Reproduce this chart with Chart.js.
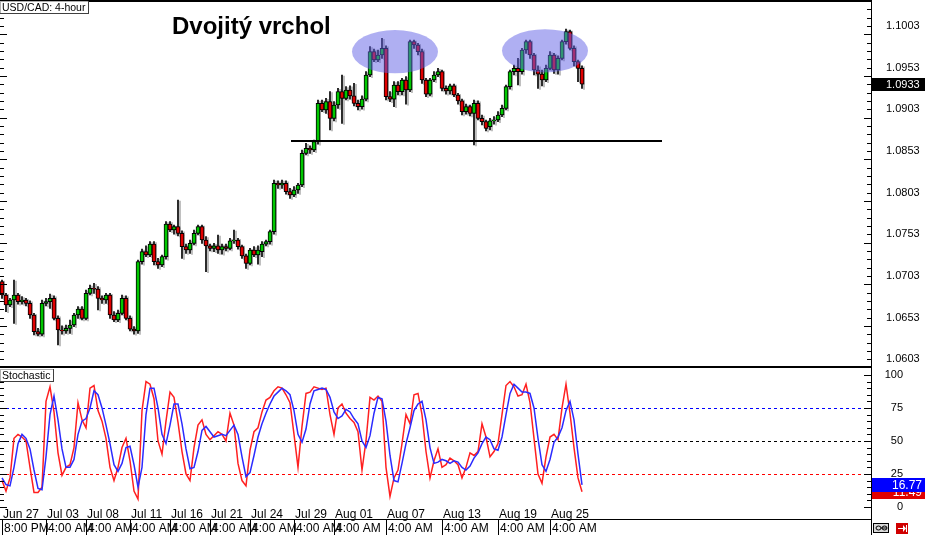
<!DOCTYPE html>
<html>
<head>
<meta charset="utf-8">
<title>USD/CAD 4-hour - Dvojitý vrchol</title>
<script src="https://cdn.jsdelivr.net/npm/chart.js@4.4.1/dist/chart.umd.min.js"></script>
<style>
  html, body { margin: 0; padding: 0; background: #fff; }
  #wrap { position: relative; width: 925px; height: 535px; overflow: hidden; }
  canvas { position: absolute; left: 0; }
  #priceChart { top: 0; }
  #stochChart { top: 368px; }
</style>
</head>
<body>
<div id="wrap">
  <canvas id="priceChart" width="925" height="368"></canvas>
  <canvas id="stochChart" width="925" height="167"></canvas>
</div>
<script>
// USD/CAD 4-hour candles (oldest first)
const open = [
  1.0696, 1.0680, 1.0668, 1.0674, 1.0680, 1.0672, 1.0674, 1.0670, 1.0656, 1.0636,
  1.0633, 1.0670, 1.0672, 1.0676, 1.0652, 1.0638, 1.0637, 1.0640, 1.0644, 1.0656,
  1.0663, 1.0652, 1.0682, 1.0688, 1.0687, 1.0676, 1.0674, 1.0680, 1.0656, 1.0650,
  1.0658, 1.0676, 1.0652, 1.0639, 1.0637, 1.0720, 1.0732, 1.0728, 1.0741, 1.0720,
  1.0716, 1.0726, 1.0765, 1.0758, 1.0762, 1.0754, 1.0738, 1.0734, 1.0742, 1.0754,
  1.0762, 1.0746, 1.0739, 1.0736, 1.0739, 1.0734, 1.0738, 1.0736, 1.0745, 1.0746,
  1.0738, 1.0727, 1.0718, 1.0734, 1.0728, 1.0732, 1.0741, 1.0744, 1.0756, 1.0814,
  1.0812, 1.0814, 1.0804, 1.0800, 1.0806, 1.0812, 1.0850, 1.0856, 1.0854, 1.0864,
  1.0910, 1.0902, 1.0912, 1.0892, 1.0908, 1.0924, 1.0916, 1.0926, 1.0919, 1.0910,
  1.0906, 1.0915, 1.0944, 1.0972, 1.0962, 1.0968, 1.0976, 1.0918, 1.0915, 1.0932,
  1.0924, 1.0938, 1.0926, 1.0984, 1.0980, 1.0972, 1.0938, 1.0921, 1.0938, 1.0944,
  1.0948, 1.0928, 1.0925, 1.0931, 1.0920, 1.0913, 1.0900, 1.0906, 1.0898, 1.0910,
  1.0892, 1.0888, 1.0882, 1.0889, 1.0890, 1.0896, 1.0904, 1.0930, 1.0948, 1.0952,
  1.0948, 1.0974, 1.0984, 1.0968, 1.0950, 1.0945, 1.0938, 1.0952, 1.0968, 1.0950,
  1.0964, 1.0984, 1.0996, 1.0976, 1.0960, 1.0952
];
const high = [
  1.0698, 1.0682, 1.0676, 1.0698, 1.0682, 1.0678, 1.0676, 1.0673, 1.0658, 1.0640,
  1.0674, 1.0676, 1.0681, 1.0679, 1.0655, 1.0643, 1.0644, 1.0650, 1.0658, 1.0666,
  1.0666, 1.0686, 1.0692, 1.0694, 1.0690, 1.0679, 1.0682, 1.0682, 1.0660, 1.0662,
  1.0680, 1.0679, 1.0655, 1.0642, 1.0722, 1.0735, 1.0739, 1.0744, 1.0744, 1.0724,
  1.0728, 1.0768, 1.0768, 1.0764, 1.0794, 1.0757, 1.0741, 1.0746, 1.0758, 1.0764,
  1.0764, 1.0750, 1.0741, 1.0742, 1.0752, 1.0741, 1.0741, 1.0748, 1.0758, 1.0748,
  1.0740, 1.0729, 1.0736, 1.0738, 1.0739, 1.0744, 1.0746, 1.0758, 1.0818, 1.0817,
  1.0818, 1.0817, 1.0808, 1.0810, 1.0814, 1.0854, 1.0862, 1.0859, 1.0866, 1.0914,
  1.0914, 1.0916, 1.0924, 1.0912, 1.0928, 1.0944, 1.0930, 1.0931, 1.0934, 1.0914,
  1.0919, 1.0948, 1.0978, 1.0975, 1.0974, 1.0988, 1.0979, 1.0924, 1.0936, 1.0936,
  1.0940, 1.0942, 1.0986, 1.0986, 1.0982, 1.0975, 1.0940, 1.0940, 1.0948, 1.0952,
  1.0950, 1.0931, 1.0933, 1.0933, 1.0922, 1.0915, 1.0909, 1.0908, 1.0914, 1.0913,
  1.0896, 1.0890, 1.0892, 1.0894, 1.0900, 1.0908, 1.0932, 1.0950, 1.0956, 1.0964,
  1.0976, 1.0986, 1.0986, 1.0970, 1.0955, 1.0950, 1.0956, 1.0972, 1.0970, 1.0967,
  1.0986, 1.0999, 1.0998, 1.0979, 1.0962, 1.0955
];
const low = [
  1.0676, 1.0660, 1.0666, 1.0646, 1.0669, 1.0669, 1.0667, 1.0652, 1.0632, 1.0631,
  1.0631, 1.0667, 1.0664, 1.0650, 1.0620, 1.0633, 1.0634, 1.0634, 1.0642, 1.0652,
  1.0650, 1.0650, 1.0680, 1.0682, 1.0662, 1.0670, 1.0670, 1.0652, 1.0648, 1.0648,
  1.0656, 1.0650, 1.0637, 1.0633, 1.0634, 1.0717, 1.0726, 1.0726, 1.0716, 1.0712,
  1.0714, 1.0723, 1.0756, 1.0753, 1.0751, 1.0724, 1.0730, 1.0730, 1.0740, 1.0752,
  1.0742, 1.0708, 1.0733, 1.0732, 1.0730, 1.0729, 1.0733, 1.0734, 1.0742, 1.0735,
  1.0724, 1.0712, 1.0716, 1.0726, 1.0717, 1.0726, 1.0739, 1.0741, 1.0753, 1.0808,
  1.0808, 1.0801, 1.0796, 1.0798, 1.0802, 1.0810, 1.0848, 1.0850, 1.0852, 1.0861,
  1.0900, 1.0898, 1.0878, 1.0889, 1.0904, 1.0886, 1.0914, 1.0915, 1.0907, 1.0902,
  1.0903, 1.0913, 1.0942, 1.0960, 1.0960, 1.0964, 1.0914, 1.0912, 1.0906, 1.0920,
  1.0920, 1.0909, 1.0924, 1.0976, 1.0968, 1.0934, 1.0918, 1.0919, 1.0936, 1.0942,
  1.0925, 1.0921, 1.0921, 1.0918, 1.0909, 1.0896, 1.0897, 1.0895, 1.0860, 1.0890,
  1.0884, 1.0877, 1.0878, 1.0885, 1.0888, 1.0894, 1.0902, 1.0927, 1.0944, 1.0932,
  1.0945, 1.0970, 1.0964, 1.0944, 1.0928, 1.0931, 1.0936, 1.0950, 1.0946, 1.0945,
  1.0962, 1.0981, 1.0974, 1.0955, 1.0936, 1.0928
];
const close = [
  1.0680, 1.0668, 1.0674, 1.0680, 1.0672, 1.0674, 1.0670, 1.0656, 1.0636, 1.0633,
  1.0670, 1.0672, 1.0676, 1.0652, 1.0638, 1.0637, 1.0640, 1.0644, 1.0656, 1.0663,
  1.0652, 1.0682, 1.0688, 1.0687, 1.0676, 1.0674, 1.0680, 1.0656, 1.0650, 1.0658,
  1.0676, 1.0652, 1.0639, 1.0637, 1.0720, 1.0732, 1.0728, 1.0741, 1.0720, 1.0716,
  1.0726, 1.0765, 1.0758, 1.0762, 1.0754, 1.0738, 1.0734, 1.0742, 1.0754, 1.0762,
  1.0746, 1.0739, 1.0736, 1.0739, 1.0734, 1.0738, 1.0736, 1.0745, 1.0746, 1.0738,
  1.0727, 1.0718, 1.0734, 1.0728, 1.0734, 1.0741, 1.0744, 1.0756, 1.0814, 1.0812,
  1.0814, 1.0804, 1.0800, 1.0806, 1.0812, 1.0850, 1.0856, 1.0854, 1.0864, 1.0910,
  1.0902, 1.0912, 1.0892, 1.0908, 1.0924, 1.0916, 1.0926, 1.0919, 1.0910, 1.0906,
  1.0915, 1.0944, 1.0972, 1.0962, 1.0968, 1.0976, 1.0918, 1.0915, 1.0932, 1.0924,
  1.0938, 1.0926, 1.0984, 1.0980, 1.0972, 1.0938, 1.0921, 1.0938, 1.0944, 1.0948,
  1.0928, 1.0925, 1.0931, 1.0920, 1.0913, 1.0900, 1.0906, 1.0898, 1.0910, 1.0892,
  1.0888, 1.0880, 1.0889, 1.0890, 1.0896, 1.0904, 1.0930, 1.0948, 1.0952, 1.0948,
  1.0974, 1.0984, 1.0968, 1.0950, 1.0945, 1.0938, 1.0952, 1.0968, 1.0950, 1.0964,
  1.0984, 1.0996, 1.0976, 1.0960, 1.0952, 1.0933
];

// Stochastic oscillator: %K (red) and %D (blue)
const stochK = [
  20, 12, 22, 52, 55, 53, 50, 30, 11, 11,
  15, 80, 91, 72, 41, 24, 30, 32, 45, 79,
  66, 60, 90, 92, 73, 65, 52, 30, 20, 30,
  45, 52, 35, 12, 6, 73, 95, 93, 82, 50,
  40, 65, 87, 83, 64, 42, 25, 20, 45, 62,
  66, 55, 51, 54, 57, 55, 50, 71, 62, 33,
  20, 16, 43, 57, 60, 72, 81, 83, 88, 91,
  90, 85, 79, 55, 30, 61, 86, 87, 91, 90,
  89, 90, 70, 55, 75, 78, 71, 67, 64, 57,
  28, 50, 83, 81, 84, 80, 30, 8, 22, 28,
  48, 70, 63, 85, 86, 70, 42, 22, 35, 44,
  30, 32, 37, 35, 32, 22, 30, 41, 39, 42,
  63, 53, 38, 42, 48, 70, 92, 95, 91, 84,
  85, 93, 79, 52, 25, 18, 38, 53, 55, 51,
  75, 93, 71, 45, 22, 11.49
];
const stochD = [
  22, 17, 16, 30, 48, 55, 52, 44, 28, 14,
  13, 38, 70, 84, 66, 44, 30, 30, 36, 55,
  65, 67, 75, 88, 85, 75, 62, 48, 32, 27,
  33, 45, 46, 32, 15, 30, 70, 90, 90, 75,
  55, 48, 62, 78, 78, 63, 44, 29, 30, 42,
  58, 61, 57, 53, 54, 55, 54, 58, 62, 55,
  38, 23, 26, 39, 53, 63, 71, 78, 84, 87,
  90, 88, 85, 73, 55, 49, 59, 78, 88, 89,
  90, 89, 83, 72, 67, 69, 74, 72, 67, 63,
  50, 45, 54, 71, 83, 82, 65, 39, 20, 19,
  33, 48, 60, 73, 78, 80, 66, 45, 33, 34,
  36, 35, 33, 35, 34, 30, 28, 31, 37, 41,
  48, 53, 51, 44, 43, 53, 70, 86, 93, 90,
  87, 87, 86, 75, 52, 32, 27, 36, 49, 53,
  60, 73, 80, 66, 40, 16.77
];

// axis labels
const priceTicks = [1.0603, 1.0653, 1.0703, 1.0753, 1.0803, 1.0853, 1.0903, 1.0953, 1.1003];
const stochTicks = [0, 25, 50, 75, 100];
const stochLevels = [75, 50, 25];

// time axis: bar index of each separator with its date and hour
const timeBars = [0, 11, 21, 32, 42, 52, 62, 73, 83, 96, 110, 124, 137];
const dateLabels = ['Jun 27', 'Jul 03', 'Jul 08', 'Jul 11', 'Jul 16', 'Jul 21', 'Jul 24',
                    'Jul 29', 'Aug 01', 'Aug 07', 'Aug 13', 'Aug 19', 'Aug 25'];
const hourLabels = ['8:00 PM', '4:00 AM', '4:00 AM', '4:00 AM', '4:00 AM', '4:00 AM', '4:00 AM',
                    '4:00 AM', '4:00 AM', '4:00 AM', '4:00 AM', '4:00 AM', '4:00 AM'];

// pattern annotations: neckline and the two tops
const necklinePrice = 1.0865;
const necklineFrom = 72.25;
const necklineTo = 165;
const topBars = [98.25, 135.75];
const topPrices = [1.0972, 1.0973];

const SLOTS = 218; // chart keeps empty room on the right
const slots = Array.from({ length: SLOTS }, (_, i) => i);
const FONT = '"Liberation Sans", Arial, sans-serif';

Chart.defaults.font.family = FONT;
Chart.defaults.color = '#000';

// small tick marks on both edges of a panel
function edgeTicks(ctx, area, scale, from, to, step, majorEvery) {
  ctx.fillStyle = '#000';
  let k = 0;
  for (let v = from; v <= to + 1e-9; v += step, k++) {
    if (v < scale.min || v > scale.max) continue;
    const py = Math.round(scale.getPixelForValue(v));
    const len = (k % majorEvery === 0) ? 7 : 4;
    ctx.fillRect(0, py, len, 1);
    ctx.fillRect(area.right - 1 - len, py, len, 1);
  }
}

function tagBox(ctx, text, x, y) {
  ctx.font = '10.5px ' + FONT;
  const w = Math.ceil(ctx.measureText(text).width) + 5;
  ctx.fillStyle = '#fff';
  ctx.fillRect(x, y, w, 13);
  ctx.fillStyle = '#b0b0b0';
  ctx.fillRect(x, y, w, 1);
  ctx.fillRect(x, y, 1, 13);
  ctx.fillStyle = '#404040';
  ctx.fillRect(x, y + 12, w, 1);
  ctx.fillRect(x + w - 1, y, 1, 13);
  ctx.fillStyle = '#000';
  ctx.textAlign = 'left';
  ctx.textBaseline = 'middle';
  ctx.fillText(text, x + 2, y + 7);
}

const priceDecor = {
  id: 'priceDecor',
  beforeDatasetsDraw(chart) {
    const ctx = chart.ctx;
    ctx.save();
    ctx.shadowColor = 'rgba(0,0,0,0.3)';
    ctx.shadowOffsetX = 2;
    ctx.shadowOffsetY = 1;
  },
  afterDatasetsDraw(chart) {
    chart.ctx.restore();
  },
  afterDraw(chart) {
    const { ctx, chartArea: a, scales: { x, y } } = chart;
    ctx.save();

    // the two tops
    ctx.fillStyle = 'rgba(95, 95, 230, 0.5)';
    topBars.forEach((b, i) => {
      const cx = x.getPixelForValue(b);
      const cy = y.getPixelForValue(topPrices[i]);
      const rx = x.getPixelForValue(b + 10.75) - cx;
      const ry = y.getPixelForValue(topPrices[i] - 0.0026) - cy;
      ctx.beginPath();
      ctx.ellipse(cx, cy, rx, ry, 0, 0, Math.PI * 2);
      ctx.fill();
    });

    // neckline
    ctx.fillStyle = '#000';
    const ny = Math.round(y.getPixelForValue(necklinePrice));
    const nx0 = x.getPixelForValue(necklineFrom);
    const nx1 = x.getPixelForValue(necklineTo);
    ctx.fillRect(nx0, ny - 1, nx1 - nx0, 2);

    // frame
    ctx.fillRect(0, 0, a.right, 2);
    ctx.fillRect(0, a.bottom, a.right, 2);
    ctx.fillRect(a.right - 1, 0, 1, chart.height);
    edgeTicks(ctx, a, y, 1.0593, 1.1033, 0.001, 5);

    // title
    ctx.fillStyle = '#000';
    ctx.font = 'bold 24px ' + FONT;
    ctx.textAlign = 'left';
    ctx.textBaseline = 'alphabetic';
    ctx.fillText('Dvojitý vrchol', 172, 34);

    tagBox(ctx, 'USD/CAD: 4-hour', 0, 1);

    // last price tag
    const last = close[close.length - 1];
    const ly = Math.round(y.getPixelForValue(last));
    ctx.fillStyle = '#000';
    ctx.fillRect(a.right, ly - 6, chart.width - a.right, 13);
    ctx.fillStyle = '#fff';
    ctx.font = '11px ' + FONT;
    ctx.textAlign = 'left';
    ctx.textBaseline = 'middle';
    ctx.fillText(last.toFixed(4), a.right + 14, ly + 1);
    ctx.restore();
  }
};

const up = close.map((c, i) => c >= open[i]);

new Chart(document.getElementById('priceChart'), {
  type: 'bar',
  data: {
    labels: slots,
    datasets: [
      {
        label: 'body',
        data: open.map((o, i) => [o, close[i]]),
        backgroundColor: up.map(u => (u ? '#00c800' : '#e00000')),
        borderColor: '#000',
        borderWidth: 1,
        borderSkipped: false,
        barThickness: 4,
        grouped: false
      },
      {
        label: 'wick',
        data: low.map((l, i) => [l, high[i]]),
        backgroundColor: '#000',
        borderWidth: 0,
        barThickness: 1,
        grouped: false
      }
    ]
  },
  options: {
    responsive: false,
    animation: false,
    events: [],
    layout: { padding: { top: 2, bottom: 2, left: 0, right: 0 } },
    plugins: { legend: { display: false }, tooltip: { enabled: false } },
    scales: {
      x: { type: 'category', display: false, offset: true, grid: { display: false } },
      y: {
        position: 'right',
        min: 1.05948,
        max: 1.10316,
        grid: { display: false, drawTicks: false },
        border: { display: false },
        afterBuildTicks: s => { s.ticks = priceTicks.map(v => ({ value: v })); },
        afterFit: s => { s.width = 53; s.paddingTop = 0; s.paddingBottom = 0; },
        ticks: {
          padding: 14,
          color: '#000',
          font: { size: 11 },
          callback: v => Number(v).toFixed(4)
        }
      }
    }
  },
  plugins: [priceDecor]
});

const stochDecor = {
  id: 'stochDecor',
  beforeDatasetsDraw(chart) {
    const { ctx, chartArea: a, scales: { y } } = chart;
    const colors = ['#0000ff', '#000000', '#ff0000'];
    ctx.save();
    ctx.lineWidth = 1;
    ctx.setLineDash([3, 3]);
    stochLevels.forEach((lv, i) => {
      const py = Math.round(y.getPixelForValue(lv)) + 0.5;
      ctx.strokeStyle = colors[i];
      ctx.beginPath();
      ctx.moveTo(a.left, py);
      ctx.lineTo(a.right, py);
      ctx.stroke();
    });
    ctx.restore();
  },
  afterDraw(chart) {
    const { ctx, chartArea: a, scales: { x, y } } = chart;
    const W = chart.width, H = chart.height;
    ctx.save();
    ctx.fillStyle = '#000';
    ctx.fillRect(0, a.bottom, a.right, 1);
    ctx.fillRect(a.right - 1, 0, 1, H);
    edgeTicks(ctx, a, y, 0, 100, 5, 5);

    tagBox(ctx, 'Stochastic', 0, 1);

    // time axis
    ctx.fillStyle = '#000';
    ctx.font = '12px ' + FONT;
    ctx.textAlign = 'left';
    ctx.textBaseline = 'alphabetic';
    timeBars.forEach((b, i) => {
      const px = Math.round(x.getPixelForValue(b));
      ctx.fillText(dateLabels[i], px + 1, a.bottom - 1);
      ctx.fillRect(px, a.bottom, 1, H - a.bottom);
      ctx.fillText(hourLabels[i], px + 2, H - 3);
    });

    // current values
    const n = stochK.length - 1;
    [[stochK[n], '#e00000'], [stochD[n], '#0000ff']].forEach(([v, c]) => {
      const py = Math.round(y.getPixelForValue(v));
      ctx.fillStyle = c;
      ctx.fillRect(a.right, py - 7, W - a.right, 14);
      ctx.fillStyle = '#fff';
      ctx.textAlign = 'right';
      ctx.textBaseline = 'middle';
      ctx.fillText(v.toFixed(2), W - 3, py + 1);
    });

    // little toolbar icons bottom right
    const iy = a.bottom + 4;
    ctx.fillStyle = '#d8d8d8';
    ctx.fillRect(a.right + 1, iy, 16, 10);
    ctx.strokeStyle = '#000';
    ctx.lineWidth = 1;
    ctx.strokeRect(a.right + 1.5, iy + 0.5, 15, 9);
    ctx.beginPath();
    ctx.ellipse(a.right + 6.5, iy + 5, 2.5, 2, 0, 0, Math.PI * 2);
    ctx.ellipse(a.right + 12.5, iy + 5, 2.5, 2, 0, 0, Math.PI * 2);
    ctx.stroke();
    ctx.fillStyle = '#d00000';
    ctx.fillRect(a.right + 24, iy, 12, 11);
    ctx.fillStyle = '#fff';
    ctx.fillRect(a.right + 26, iy + 5, 5, 1);
    ctx.beginPath();
    ctx.moveTo(a.right + 31, iy + 2);
    ctx.lineTo(a.right + 34, iy + 5.5);
    ctx.lineTo(a.right + 31, iy + 9);
    ctx.fill();
    ctx.fillRect(a.right + 34, iy + 2, 1, 7);
    ctx.restore();
  }
};

new Chart(document.getElementById('stochChart'), {
  type: 'line',
  data: {
    labels: slots,
    datasets: [
      { label: '%D', data: stochD, borderColor: '#2b2bff', borderWidth: 1.5, pointRadius: 0, tension: 0 },
      { label: '%K', data: stochK, borderColor: '#ff2020', borderWidth: 1.5, pointRadius: 0, tension: 0 }
    ]
  },
  options: {
    responsive: false,
    animation: false,
    events: [],
    // right padding + narrow axis: labels end at x=903, plot still ends at 872
    layout: { padding: { top: 1, bottom: 16, left: 0, right: 22 } },
    plugins: { legend: { display: false }, tooltip: { enabled: false } },
    scales: {
      x: { type: 'category', display: false, offset: true, grid: { display: false } },
      y: {
        position: 'right',
        min: -9.1,
        max: 104.5,
        grid: { display: false, drawTicks: false },
        border: { display: false },
        afterBuildTicks: s => { s.ticks = stochTicks.map(v => ({ value: v })); },
        afterFit: s => { s.width = 31; s.paddingTop = 0; s.paddingBottom = 0; },
        ticks: { padding: 4, crossAlign: 'far', color: '#000', font: { size: 11 } }
      }
    }
  },
  plugins: [stochDecor]
});
</script>
</body>
</html>
